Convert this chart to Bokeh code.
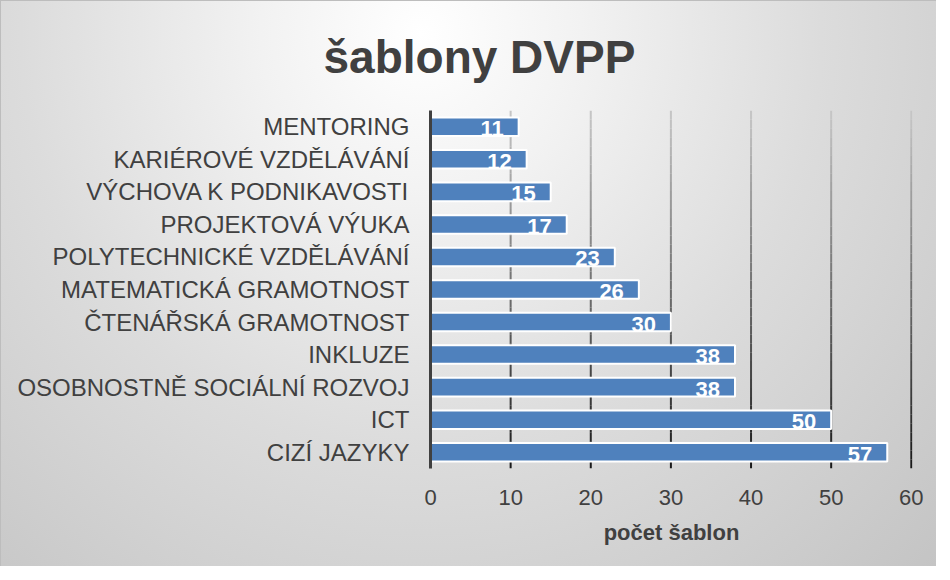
from bokeh.plotting import figure
from bokeh.models import FixedTicker, ColumnDataSource
from bokeh.core.properties import value
from bokeh.embed import file_html
from bokeh.resources import INLINE

categories = ["CIZÍ JAZYKY", "ICT", "OSOBNOSTNĚ SOCIÁLNÍ ROZVOJ", "INKLUZE",
              "ČTENÁŘSKÁ GRAMOTNOST", "MATEMATICKÁ GRAMOTNOST",
              "POLYTECHNICKÉ VZDĚLÁVÁNÍ", "PROJEKTOVÁ VÝUKA",
              "VÝCHOVA K PODNIKAVOSTI", "KARIÉROVÉ VZDĚLÁVÁNÍ", "MENTORING"]
values = [57, 50, 38, 38, 30, 26, 23, 17, 15, 12, 11]
x_ticks = [0, 10, 20, 30, 40, 50, 60]
title_text = "šablony DVPP"
x_label = "počet šablon"

FONT = "Liberation Sans"
TXT = "#404040"

W, H = 936, 566
BL, BR, BT, BB = 430, 24, 110, 98
p = figure(width=W, height=H, output_backend="svg", toolbar_location=None,
           x_range=(0, 60.15), y_range=(-0.5, len(categories) - 0.5),
           min_border_left=BL, min_border_right=BR, min_border_top=BT,
           min_border_bottom=BB, title=title_text)
p.styles = {"background": "radial-gradient(ellipse farthest-corner at 45% 6%, #ffffff 0%, #f2f2f2 22%, #dcdcdc 55%, #c4c4c4 100%)",
            "box-shadow": "inset 1px 1px 0 #bdbdbd"}
p.background_fill_alpha = 0
p.border_fill_alpha = 0
p.outline_line_color = None
p.xgrid.visible = False
p.ygrid.visible = False

p.title.align = "left"
p.title.offset = -107
p.title.text_font = FONT
p.title.text_font_style = "bold"
p.title.text_font_size = "46px"
p.title.text_color = TXT
p.title.standoff = 55

# gradient vertical gridlines
n = 40
y0 = -0.5
y1 = len(categories) - 0.5
gx, gy0, gy1, gc = [], [], [], []
top = (0xc8, 0xc8, 0xc8)
bot = (0x18, 0x18, 0x18)
for t in x_ticks[1:]:
    for i in range(n):
        a = y1 - (y1 - y0) * i / n
        b = y1 - (y1 - y0) * (i + 1) / n
        f = (i + 0.5) / n
        c = tuple(int(top[k] + (bot[k] - top[k]) * f) for k in range(3))
        gx.append(t); gy0.append(a); gy1.append(b)
        gc.append("#%02x%02x%02x" % c)
p.segment(x0=gx, x1=gx, y0=gy0, y1=gy1, line_color=gc, line_width=2)

ys = list(range(len(categories)))
src = ColumnDataSource(dict(y=ys, v=values, lab=[str(v) for v in values]))
p.hbar(y="y", left=0, right="v", height=0.57, source=src,
       fill_color="#4F81BD", line_color="white", line_width=2)
p.text(x="v", y="y", text="lab", source=src, text_align="right",
       text_baseline="middle", x_offset=-15, y_offset=2,
       text_color="white", text_font=value(FONT), text_font_style="bold",
       text_font_size="22px")

# axes
p.xaxis.ticker = FixedTicker(ticks=x_ticks)
p.xaxis.axis_line_color = None
p.xaxis.major_tick_line_color = None
p.xaxis.minor_tick_line_color = None
p.xaxis.major_label_text_font = FONT
p.xaxis.major_label_text_font_size = "22px"
p.xaxis.major_label_text_color = TXT
p.xaxis.major_label_standoff = 15
p.xaxis.axis_label = x_label
p.xaxis.axis_label_text_font = FONT
p.xaxis.axis_label_text_font_size = "22px"
p.xaxis.axis_label_text_font_style = "bold"
p.xaxis.axis_label_text_color = TXT
p.xaxis.axis_label_standoff = 12

p.yaxis.ticker = FixedTicker(ticks=ys)
p.yaxis.major_label_overrides = {i: c for i, c in enumerate(categories)}
p.yaxis.axis_line_color = TXT
p.yaxis.axis_line_width = 3
p.yaxis.major_tick_line_color = None
p.yaxis.minor_tick_line_color = None
p.yaxis.major_label_text_font = FONT
p.yaxis.major_label_text_font_size = "24px"
p.yaxis.major_label_text_color = TXT
p.yaxis.major_label_standoff = 15

open("out.html", "w").write(file_html(p, INLINE))
